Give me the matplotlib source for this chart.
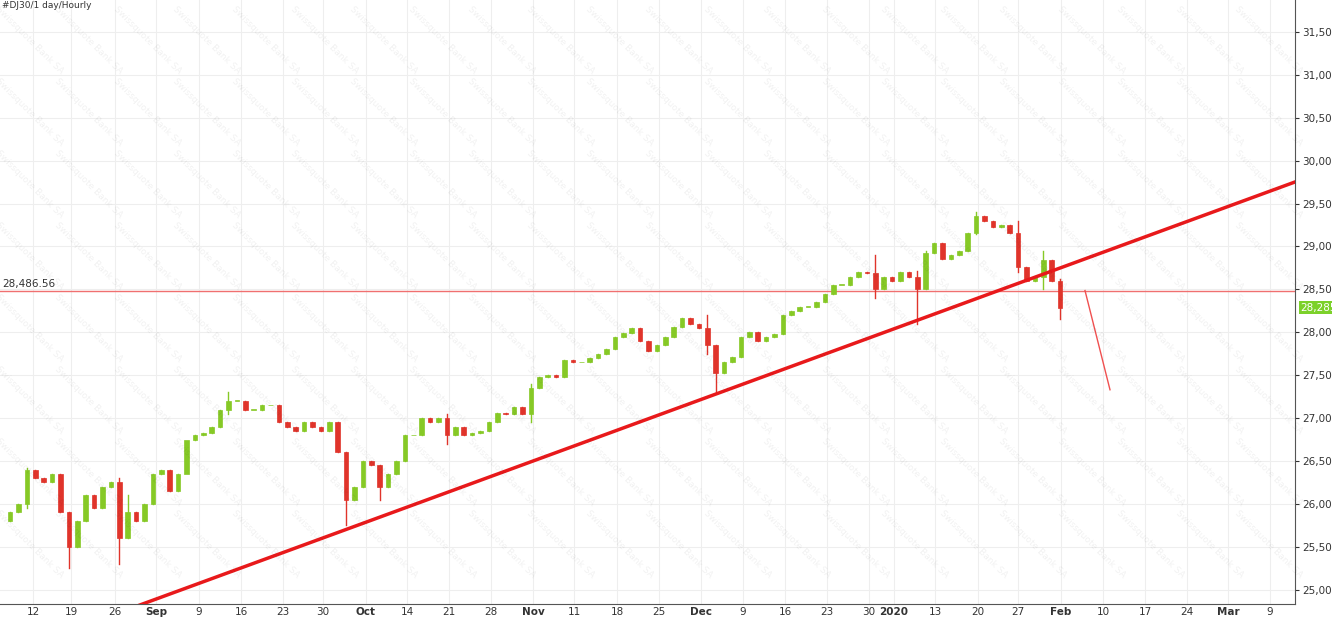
import matplotlib
matplotlib.use("Agg")
import matplotlib.pyplot as plt
from matplotlib.ticker import FuncFormatter

# daily closes (trading days from 6 Aug 2019 to 31 Jan 2020)
first_open = 25800
closes = [
    25900, 26000, 26400, 26300, 26250, 26350, 25900, 25500, 25800, 26100,
    25950, 26200, 26250, 25600, 25900, 25800, 26000, 26350, 26400, 26150,
    26350, 26750, 26800, 26830, 26900, 27100, 27200, 27200, 27100, 27100,
    27150, 27150, 26950, 26900, 26850, 26950, 26900, 26850, 26950, 26600,
    26050, 26200, 26500, 26450, 26200, 26350, 26500, 26800, 26800, 27000,
    26950, 27000, 26800, 26900, 26800, 26830, 26850, 26960, 27060, 27050,
    27130, 27050, 27350, 27480, 27500, 27480, 27680, 27650, 27650, 27700,
    27750, 27800, 27950, 27990, 28050, 27900, 27780, 27850, 27950, 28060,
    28170, 28100, 28050, 27850, 27520, 27650, 27710, 27950, 28000, 27900,
    27950, 27980, 28200, 28250, 28300, 28300, 28350, 28450, 28550, 28550,
    28650, 28700, 28690, 28500, 28650, 28600, 28700, 28650, 28500, 28920,
    29040, 28850, 28900, 28950, 29160, 29360, 29300, 29230, 29250, 29160,
    28760, 28600, 28650, 28840, 28600, 28285,
]
# notable intraday spikes: day index -> (low, high)
spikes = {
    2: (25950, 26420), 7: (25250, 25900), 13: (25300, 26300), 14: (25600, 26100),
    21: (26400, 26550), 26: (27050, 27300), 40: (25750, 26600), 44: (26050, 26450),
    52: (26700, 27050), 62: (26950, 27400), 83: (27750, 28200), 84: (27300, 27850),
    109: (28500, 28950), 108: (28100, 28720), 103: (28400, 28900), 115: (29150, 29400),
    120: (28700, 29300), 123: (28500, 28950), 125: (28150, 28620),
}

tick_px = [33, 71, 115, 156, 199, 241, 283, 323, 366, 407, 449, 491, 533, 574, 617,
           659, 701, 743, 785, 827, 869, 894, 935, 978, 1018, 1061, 1103, 1145, 1187,
           1228, 1270]
tick_labels = ["12", "19", "26", "Sep", "9", "16", "23", "30", "Oct", "14", "21", "28",
               "Nov", "11", "18", "25", "Dec", "9", "16", "23", "30", "2020", "13", "20",
               "27", "Feb", "10", "17", "24", "Mar", "9"]
bold_labels = {"Sep", "Oct", "Nov", "Dec", "2020", "Feb", "Mar"}

level = 28486.56
last_price = 28285.8
trend_x = [140, 1295]
trend_y = [24822, 29752]
proj_x = [1085, 1110]
proj_y = [28486.56, 27330]

PX = 8.4  # pixels per trading day
UP, DOWN = "#86c926", "#e0342b"

fig = plt.figure(figsize=(13.32, 6.19), dpi=100)
ax = fig.add_axes([0, 15 / 619, 1295 / 1332, 1 - 15 / 619])

# watermark
for row in range(0, 9):
    for col in range(0, 22):
        xx = 30 + col * 59
        yy = 40 + row * 72
        if xx > 1270 or yy > 590:
            continue
        fig.text(xx / 1332, 1 - yy / 619, "Swissquote Bank SA", rotation=-45,
                 fontsize=6.5, color="#000000", alpha=0.06, ha="center", va="center")

prev = first_open
for i, c in enumerate(closes):
    x = (i + 1.2) * PX
    o = prev
    col = UP if c >= o else DOWN
    lo, hi = spikes.get(i, (min(o, c), max(o, c)))
    ax.plot([x, x], [lo, hi], color=col, lw=1, zorder=3)
    ax.bar(x, abs(c - o) if c != o else 8, bottom=min(o, c), width=0.55 * PX,
           color=col, edgecolor=col, lw=0.5, zorder=3)
    prev = c

ax.axhline(level, color="#f07070", lw=1, zorder=2)
ax.plot(trend_x, trend_y, color="#e8191b", lw=2.5, zorder=4)
ax.plot(proj_x, proj_y, color="#f05050", lw=1, zorder=4)

ax.set_xlim(0, 1295)
ax.set_ylim(24833, 31873)
ax.set_xticks(tick_px)
ax.set_xticklabels(tick_labels, fontsize=7.5, color="#333333")
for t in ax.get_xticklabels():
    if t.get_text() in bold_labels:
        t.set_fontweight("bold")
ax.set_yticks(range(25000, 31501, 500))
ax.yaxis.set_major_formatter(FuncFormatter(lambda v, p: f"{v:,.2f}"))
ax.yaxis.tick_right()
ax.tick_params(axis="y", labelsize=7.5, colors="#333333", length=3, pad=2)
ax.tick_params(axis="x", length=0, pad=2)
ax.grid(True, color="#eeeeee", lw=0.8, zorder=0)
for s in ["top", "left"]:
    ax.spines[s].set_visible(False)
ax.spines["right"].set_color("#555555")
ax.spines["bottom"].set_color("#555555")

ax.text(2, level + 20, f"{level:,.2f}", fontsize=7.5, color="#333333", va="bottom")
ax.text(1.004, last_price, f"{last_price:,.2f}", transform=ax.get_yaxis_transform(),
        fontsize=7.5, color="white", va="center", ha="left",
        bbox=dict(boxstyle="square,pad=0.15", fc="#7cd12a", ec="none"), clip_on=False)
fig.text(2 / 1332, 1 - 6 / 619, "#DJ30/1 day/Hourly", fontsize=6.5, color="#333333",
         va="center")

fig.savefig("out.png", dpi=100)
